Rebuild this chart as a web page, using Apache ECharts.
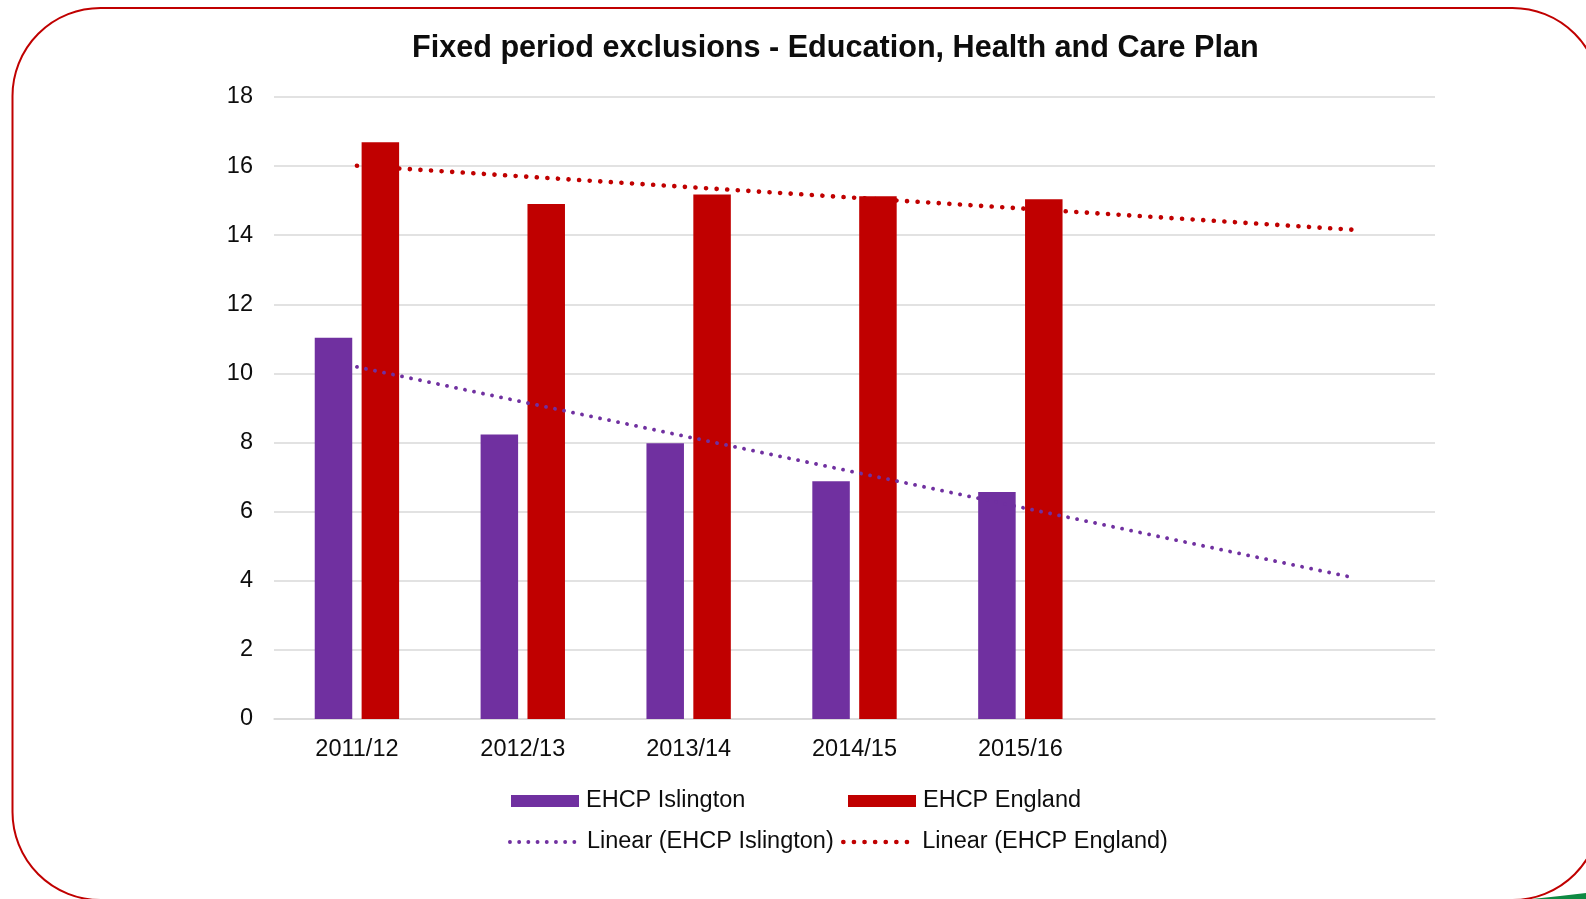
<!DOCTYPE html>
<html>
<head>
<meta charset="utf-8">
<title>Fixed period exclusions - Education, Health and Care Plan</title>
<script src="https://cdn.jsdelivr.net/npm/echarts@6/dist/echarts.min.js"></script>
<style>
  html, body { margin: 0; padding: 0; background: #ffffff; }
  #chart { width: 1586px; height: 899px; }
</style>
</head>
<body>
<div id="chart"></div>
<script>
// Academic years (two trailing slots hold the trend forecast)
const categories = ['2011/12', '2012/13', '2013/14', '2014/15', '2015/16', '', ''];

// Fixed period exclusion rates for pupils with an EHC plan
const islington = [11.03, 8.23, 7.98, 6.88, 6.57, null, null];
const england = [16.69, 14.90, 15.18, 15.13, 15.04, null, null];

// Linear trend lines: start and forecast end points
const trendIslington = [10.19, null, null, null, null, null, 4.10];
const trendEngland = [16.01, null, null, null, null, null, 14.16];

// Value axis ticks
const yTicks = { min: 0, max: 18, interval: 2 };

const PURPLE = '#7030A0';
const RED = '#C00000';
const FONT = "'Liberation Sans', Arial, sans-serif";
const TEXT = '#0d0d0d';

const DOT_ISL = { width: 3.8, type: [0.1, 9.1], cap: 'round' };
const DOT_ENG = { width: 4.6, type: [0.1, 10.5], cap: 'round' };

const chart = echarts.init(document.getElementById('chart'), null, { renderer: 'canvas' });

const legendText = { fontFamily: FONT, fontSize: 23.5, color: TEXT, lineHeight: 26 };
const barLegendText = Object.assign({}, legendText, { padding: [0, 0, 0, 2] });

chart.setOption({
  backgroundColor: '#ffffff',
  animation: false,
  title: {
    text: 'Fixed period exclusions - Education, Health and Care Plan',
    left: 412,
    top: 33,
    padding: 0,
    textStyle: { fontFamily: FONT, fontSize: 30.6, fontWeight: 'bold', color: TEXT }
  },
  grid: { left: 274, right: 151, top: 97, bottom: 180 },
  xAxis: {
    type: 'category',
    data: categories,
    axisTick: { show: false },
    axisLine: { lineStyle: { color: '#D9D9D9', width: 1.5 } },
    axisLabel: { fontFamily: FONT, fontSize: 23.5, color: TEXT, margin: 19, interval: 0 }
  },
  yAxis: {
    type: 'value',
    min: yTicks.min,
    max: yTicks.max,
    interval: yTicks.interval,
    axisLine: { show: false },
    axisTick: { show: false },
    splitLine: { lineStyle: { color: '#D9D9D9', width: 1.5 } },
    axisLabel: { fontFamily: FONT, fontSize: 23.5, color: TEXT, margin: 21 }
  },
  legend: [
    { data: ['EHCP Islington'], icon: 'rect', left: 511, top: 788, padding: 0, itemWidth: 68, itemHeight: 12, itemGap: 0, textStyle: barLegendText },
    { data: ['EHCP England'], icon: 'rect', left: 848, top: 788, padding: 0, itemWidth: 68, itemHeight: 12, itemGap: 0, textStyle: barLegendText },
    {
      data: ['Linear (EHCP Islington)'], left: 508, top: 829, padding: 0, itemWidth: 72, itemHeight: 12, itemGap: 0,
      itemStyle: { opacity: 0 }, lineStyle: Object.assign({ color: PURPLE }, DOT_ISL), textStyle: legendText
    },
    {
      data: ['Linear (EHCP England)'], left: 841, top: 829, padding: 0, itemWidth: 74, itemHeight: 12, itemGap: 0,
      itemStyle: { opacity: 0 }, lineStyle: Object.assign({ color: RED }, DOT_ENG), textStyle: legendText
    }
  ],
  series: [
    {
      name: 'EHCP Islington',
      type: 'bar',
      data: islington,
      barWidth: 37.5,
      barGap: '25%',
      itemStyle: { color: PURPLE },
      z: 2
    },
    {
      name: 'EHCP England',
      type: 'bar',
      data: england,
      barWidth: 37.5,
      barGap: '25%',
      itemStyle: { color: RED },
      z: 2
    },
    {
      name: 'Linear (EHCP Islington)',
      type: 'line',
      data: trendIslington,
      connectNulls: true,
      symbol: 'none',
      showSymbol: false,
      itemStyle: { color: PURPLE },
      lineStyle: Object.assign({ color: PURPLE }, DOT_ISL),
      z: 5
    },
    {
      name: 'Linear (EHCP England)',
      type: 'line',
      data: trendEngland,
      connectNulls: true,
      symbol: 'none',
      showSymbol: false,
      itemStyle: { color: RED },
      lineStyle: Object.assign({ color: RED }, DOT_ENG),
      z: 5
    }
  ],
  graphic: [
    {
      // Rounded frame around the slide panel
      type: 'rect',
      shape: { x: 12.5, y: 8, width: 1588, height: 892, r: 88 },
      style: { fill: 'none', stroke: RED, lineWidth: 2 },
      silent: true,
      z: 0
    },
    {
      // Edge of the neighbouring green panel
      type: 'polygon',
      shape: { points: [[1532, 899], [1560, 896], [1586, 893], [1586, 899]] },
      style: { fill: '#0E8A43' },
      silent: true,
      z: 0
    }
  ]
});
</script>
</body>
</html>
